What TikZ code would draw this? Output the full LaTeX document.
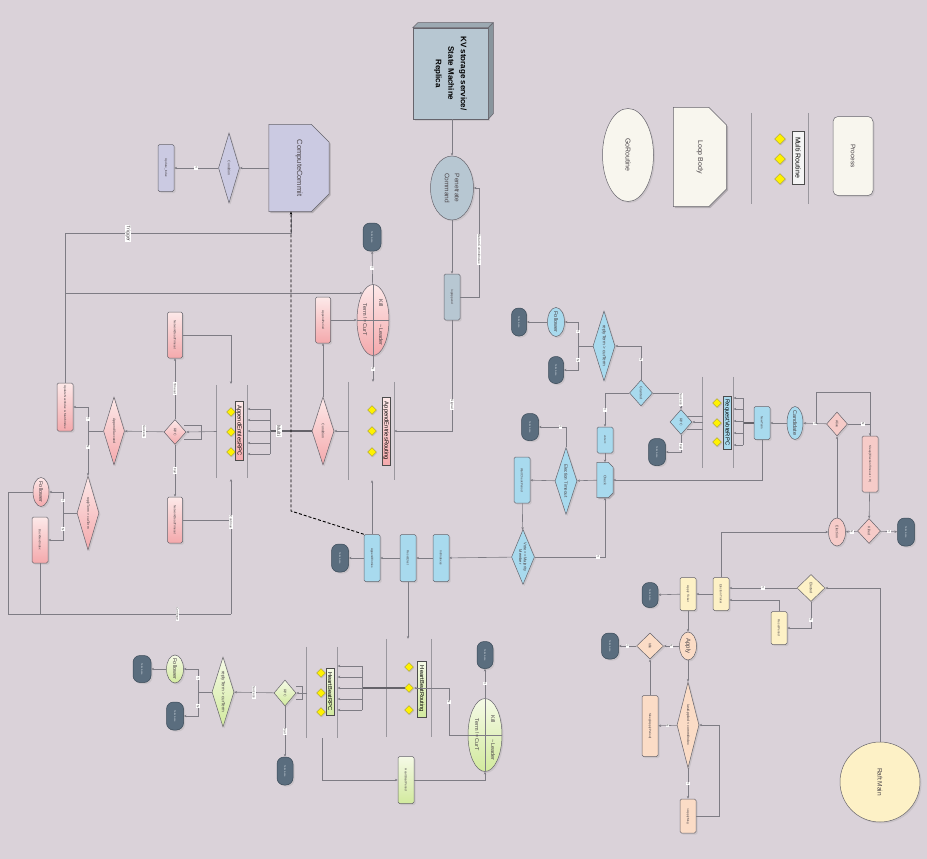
\documentclass[tikz,border=0pt]{standalone}
\usepackage{fontspec}
\setmainfont{Liberation Sans}
\usetikzlibrary{shapes.geometric,arrows.meta,shadows,calc}
\newcommand\fz[2]{\fontsize{#1}{#2}\selectfont}
\definecolor{bgC}{HTML}{DAD2D9}
\definecolor{lineC}{HTML}{7E7C84}
\definecolor{bordC}{HTML}{66646C}
\definecolor{txtC}{HTML}{4A4448}
\definecolor{pinkF}{HTML}{F8BDBE}
\definecolor{pinkT}{HTML}{FDE9E9}
\definecolor{pinkB}{HTML}{F4A9AC}
\definecolor{pinkL}{HTML}{F6CBC8}
\definecolor{blueF}{HTML}{A8DAEE}
\definecolor{termF}{HTML}{5A6D7E}
\definecolor{termD}{HTML}{3A4A58}
\definecolor{termT}{HTML}{D0D8E0}
\definecolor{greenF}{HTML}{DDEFB6}
\definecolor{greenT}{HTML}{F5FAE6}
\definecolor{greenB}{HTML}{D2EA9E}
\definecolor{yellowF}{HTML}{FDF1C6}
\definecolor{peachF}{HTML}{FBDCC6}
\definecolor{lavF}{HTML}{CBCAE2}
\definecolor{steelF}{HTML}{B7C7D2}
\definecolor{legF}{HTML}{F8F6EE}
\definecolor{barC}{HTML}{9A979E}
\newcommand\lbody[6]{%
  \node[inner sep=0pt, minimum width=#3, minimum height=#4] (#1) at #2 {};
  \fill[black, opacity=0.18, transform canvas={shift={(1.5pt,-1.5pt)}}]
    (#1.north west) -- ($(#1.north east)+(-#5,0)$) -- ($(#1.north east)+(0,#5)$)
    -- ($(#1.south east)+(0,-#5)$) -- ($(#1.south east)+(-#5,0)$) -- (#1.south west) -- cycle;
  \filldraw[fill=#6, draw=bordC, line width=0.5pt]
    (#1.north west) -- ($(#1.north east)+(-#5,0)$) -- ($(#1.north east)+(0,#5)$)
    -- ($(#1.south east)+(0,-#5)$) -- ($(#1.south east)+(-#5,0)$) -- (#1.south west) -- cycle;
}
\tikzset{
  shp/.style={draw=bordC, line width=0.5pt, inner sep=0pt,
    drop shadow={opacity=0.18, shadow xshift=1.5pt, shadow yshift=-1.5pt}},
  box/.style 2 args={shp, rectangle, rounded corners=1.5pt, minimum width=#1, minimum height=#2},
  dia/.style 2 args={shp, diamond, minimum width=#1, minimum height=#2},
  ell/.style 2 args={shp, ellipse, minimum width=#1, minimum height=#2},
  rtext/.style={rotate=-90, inner sep=0pt, align=center, text=txtC, font=\fz{3}{3.6}},
  T/.style={label={[rtext]center:{#1}}},
  T2/.style 2 args={label={[rtext, font=#1]center:{#2}}},
  term/.style 2 args={shp, rectangle, rounded corners=7pt, fill=termF, draw=termD,
    minimum width=#1, minimum height=#2,
    label={[rtext, text=termT, font=\fz{2.5}{3}]center:{Terminate}}},
  pinkG/.style={top color=pinkT, bottom color=pinkB},
  greenG/.style={top color=greenT, bottom color=greenB},
  conn/.style={draw=lineC, line width=0.6pt},
  arr/.style={conn, -{Stealth[length=2.8pt,width=2.4pt]}},
  lbl/.style={fill=white, inner sep=0.8pt, rotate=-90, font=\fz{3.2}{3.6}, text=txtC},
  bar/.style={draw=barC, line width=0.9pt},
  ydia/.style={diamond, fill=yellow, draw=yellow!55!black, line width=0.3pt,
    minimum width=9, minimum height=9, inner sep=0pt,
    drop shadow={opacity=0.2, shadow xshift=1pt, shadow yshift=-1pt}},
  mlbl/.style 2 args={draw=black!70, line width=0.5pt, rectangle, inner sep=0pt,
    minimum width=#1, minimum height=#2,
    drop shadow={opacity=0.15, shadow xshift=1pt, shadow yshift=-1pt}},
  mr/.style 2 args={inner sep=0pt, minimum width=#1, minimum height=#2},
  dsh/.style={draw=black, line width=0.9pt, dash pattern=on 3pt off 2pt},
  thickln/.style={draw=lineC!80!black, line width=1.3pt},
}
\begin{document}
\begin{tikzpicture}[x=1pt,y=-1pt]
\fill[bgC] (0,0) rectangle (927,859);
\useasboundingbox (0,0) rectangle (927,859);

% ---------------- Legend ----------------
\node[ell={51}{93}, fill=legF, T={\fz{7}{8}GoRoutine}] (lgGo) at (628,155) {};
\lbody{lgLoop}{(700,157)}{53}{99}{18}{legF}
\node[rtext, font=\fz{7}{8}] (lgLoopT) at (lgLoop) {Loop Body};
\node[mr={56}{91}] (lgMulti) at (780,158.5) {};
\draw[bar] (lgMulti.north west) -- (lgMulti.south west);
\draw[bar] (lgMulti.north east) -- (lgMulti.south east);
\node[ydia, minimum width=11, minimum height=11] (lgD1) at (780,139) {};
\node[ydia, minimum width=11, minimum height=11] (lgD2) at (780,159) {};
\node[ydia, minimum width=11, minimum height=11] (lgD3) at (780,179) {};
\node[mlbl={12}{53}, fill=white!92!gray, T={\color{black}\fz{7}{8}Multi Routine}] (lgML) at (798,157.5) {};
\node[box={40}{79}, rounded corners=5pt, fill=legF, T={\fz{6.5}{7.5}Process}] (lgProc) at (853,156) {};

% ---------------- KV store ----------------
\node[shp, rectangle, minimum width=75, minimum height=91, fill=steelF] (kv) at (450.5,73.5) {};
\filldraw[fill=steelF!85!black, draw=bordC, line width=0.5pt] (kv.north west) -- ++(5,-5) -- ++(75,0) -- (kv.north east) -- cycle;
\filldraw[fill=steelF!75!black, draw=bordC, line width=0.5pt] (kv.north east) -- ++(5,-5) -- ++(0,91) -- (kv.south east) -- cycle;
\node[rtext, text=black, font=\bfseries\fz{8}{12.5}] (kvT) at (kv) {KV storage service/\\State Machine\\Replica};
\node[ell={43}{64}, fill=steelF, T2={\fz{6.5}{10}}{Penetrate\\Command}] (pen) at (452,188) {};
\node[box={16}{46}, fill=steelF, T={logAppend}] (lga) at (452,297) {};

% ---------------- Lavender ----------------
\node[box={16}{47}, fill=lavF, T={Update\_Index}] (ccBox) at (166,168) {};
\node[dia={21}{70}, fill=lavF, T={\fz{3.5}{4}Condition}] (ccDia) at (229,168) {};
\lbody{cc}{(299,168)}{60}{87}{18}{lavF}
\node[rtext, font=\fz{7.5}{9}] (ccT) at (cc) {ComputeCommit};
\coordinate (ccBot) at ($(cc.south)+(-8,0)$);

% ---------------- Pink centre ----------------
\node[term={18}{28}] (tA) at (372,237) {};
\node[ell={32}{71}, pinkG] (killA) at (373,320) {};
\draw[conn] (killA.west) -- (killA.east);
\draw[conn] (killA.north) -- (killA.south);
\node[rtext, font=\fz{5.5}{6}] (killA1) at (381,303) {Kill};
\node[rtext, font=\fz{5.5}{6}] (killA2) at (381,335) {\textasciitilde Leader};
\node[rtext, font=\fz{5.5}{6}] (killA3) at (365,320) {Term != CurT};
\node[box={15}{46}, pinkG, T={AppendPeriod}] (apA) at (323,320) {};
\node[dia={22}{68}, pinkG, T={\fz{3.5}{4}Condition}] (condA) at (323,431) {};
\node[mr={45}{98}] (aer) at (371.5,431) {};
\draw[bar] (aer.north west) -- (aer.south west);
\draw[bar] (aer.north east) -- (aer.south east);
\node[ydia] (aerD1) at (372,410) {};
\node[ydia] (aerD2) at (372,431) {};
\node[ydia] (aerD3) at (372,452) {};
\node[mlbl={8}{68}, pinkG, T={\color{black}\fz{5.8}{6}AppendEntriesRouting}] (aerL) at (386,431) {};

% ---------------- Pink left ----------------
\node[mr={30}{93}] (aep) at (232,431.5) {};
\draw[bar] (aep.north west) -- (aep.south west);
\draw[bar] (aep.north east) -- (aep.south east);
\node[ydia] (aepD1) at (231,412) {};
\node[ydia] (aepD2) at (231,432) {};
\node[ydia] (aepD3) at (231,452) {};
\node[mlbl={8}{59}, pinkG, T={\color{black}\fz{5.8}{6}AppendEntriesRPC}] (aepL) at (239,430.5) {};
\coordinate (aepTop) at (231,384);
\coordinate (aepBot) at (231,479);
\node[dia={22}{25}, pinkG, T={\fz{3.5}{4}RPC}] (rpcA) at (175,432) {};
\node[box={15}{46}, pinkG, T={NetworkDeadTimeout}] (ndA) at (175,335) {};
\node[box={15}{46}, pinkG, T={NetworkDeadTimeout}] (ndB) at (175,520) {};
\node[dia={21}{68}, pinkG, T={\fz{3.5}{4}AppendSucceed}] (asA) at (114,431) {};
\node[box={16}{48}, pinkG, T={Update NextIndex \& MatchIndex}] (updA) at (65,407) {};
\node[dia={22}{74}, pinkG, T={\fz{3.5}{4}replyTerm > curTerm}] (rtA) at (88,513) {};
\node[ell={16}{29}, pinkG, T={\fz{5.5}{6}Follower}] (folA) at (41,492) {};
\node[box={16}{46}, pinkG, T={BackNextIndex}] (bnA) at (40,540) {};

% ---------------- Blue ----------------
\node[term={17}{28}] (tB1) at (340,558) {};
\node[box={16}{47}, fill=blueF, T={AppendEntries}] (aeB) at (372,558) {};
\node[box={16}{47}, fill=blueF, T={ResetElect}] (reB) at (408,558) {};
\node[box={16}{47}, fill=blueF, T={InitIndexes}] (iiB) at (441,558) {};
\node[dia={23}{55}, fill=blueF, T2={\fz{4}{4.8}}{Vote >= Majority\\Member}] (vmB) at (523,557) {};
\lbody{chkB}{(605,480)}{16}{35}{5}{blueF}
\node[rtext, font=\fz{3.5}{4}] (chkT) at (chkB) {Check};
\node[box={16}{26}, fill=blueF, T={vote++}] (vpB) at (605,440) {};
\node[dia={22}{67}, fill=blueF, T={\fz{4.5}{5}Election Timeout}] (etB) at (566,481) {};
\node[box={16}{46}, fill=blueF, T={Wait CheckPeriod}] (wcB) at (522,480) {};
\node[term={17}{27}] (tB2) at (530,427) {};
\node[dia={23}{26}, fill=blueF, T={\fz{3.5}{4}Granted}] (grB) at (641,393) {};
\node[dia={22}{70}, fill=blueF, T={\fz{4.5}{5}replyTerm > curTerm}] (rtB) at (604,346) {};
\node[ell={17}{29}, fill=blueF, T={\fz{5.5}{6}Follower}] (folB) at (556,322) {};
\node[term={15}{28}] (tB3) at (519,322) {};
\node[term={15}{27}] (tB4) at (556,370) {};
\node[dia={22}{25}, fill=blueF, T={\fz{3.5}{4}RPC}] (rpcB) at (681,422) {};
\node[term={17}{27}] (tB5) at (657,452) {};
\node[mr={30}{91}] (rvr) at (718,422.5) {};
\draw[bar] (rvr.north west) -- (rvr.south west);
\draw[bar] (rvr.north east) -- (rvr.south east);
\node[ydia] (rvrD1) at (717,403) {};
\node[ydia] (rvrD2) at (717,423) {};
\node[ydia] (rvrD3) at (717,442) {};
\node[mlbl={8}{53}, fill=blueF, T={\color{black}\fz{5.8}{6}RequestVoteRPC}] (rvrL) at (727,422.5) {};
\node[box={16}{33}, fill=blueF, T={NewTerm}] (ntB) at (762,423) {};
\node[ell={16}{33}, fill=blueF, T={\fz{5.5}{6}Candidate}] (candB) at (795,423) {};
\node[dia={21}{24}, fill=pinkL, T={\fz{3.5}{4}Alive}] (alvP) at (837,424) {};
\node[box={16}{56}, fill=pinkL, T={Sleep(ElectionTimeout + R)}] (slpP) at (870,464) {};
\node[dia={23}{25}, fill=pinkL, T={\fz{3.5}{4}Killed}] (kldP) at (869,531) {};
\node[term={17}{28}] (tP1) at (906,532) {};
\node[ell={17}{28}, fill=pinkL, T={\fz{3.5}{4}Election}] (elP) at (837,532) {};

% ---------------- Yellow / peach ----------------
\node[box={16}{33}, fill=yellowF, T={Election Ticker}] (etkY) at (721,594) {};
\node[box={16}{33}, fill=yellowF, T={Apply Ticker}] (atkY) at (688,594) {};
\node[term={16}{25}] (tY1) at (650,595) {};
\node[dia={28}{27}, fill=yellowF, T={\fz{3.5}{4}Elected}] (eldY) at (811,588) {};
\node[box={16}{33}, fill=yellowF, T={ResetPeriod}] (rspY) at (779,628) {};
\node[shp, circle, minimum size=80, fill=yellowF, T={\fz{6.5}{7}Raft Main}] (rmY) at (880,782) {};
\node[ell={17}{28}, fill=peachF, T={\fz{6}{6.5}Apply}] (aplY) at (688,646) {};
\node[dia={27}{26}, fill=peachF, T={\fz{3.5}{4}Idle}] (idlY) at (650,646) {};
\node[term={17}{26}] (tY2) at (610,646) {};
\node[dia={22}{86}, fill=peachF, T={\fz{3.5}{4}lastApplied < commitIndex}] (lacY) at (688,725) {};
\node[box={16}{61}, fill=peachF, T={Sleep(ApplyPeriod)}] (sapY) at (650,726) {};
\node[box={16}{34}, fill=peachF, T={<-ApplyMsg}] (amY) at (688,816) {};

% ---------------- Green ----------------
\node[term={18}{27}] (tG1) at (142,669) {};
\node[ell={17}{28}, greenG, T={\fz{5.5}{6}Follower}] (folG) at (175,669) {};
\node[term={17}{28}] (tG2) at (175,716) {};
\node[dia={22}{70}, greenG, T={\fz{4.5}{5}replyTerm > curTerm}] (rtG) at (223,692) {};
\node[dia={22}{26}, greenG, T={\fz{3.5}{4}RPC}] (rpcG) at (285,693) {};
\node[term={16}{28}] (tG3) at (285,771) {};
\node[mr={30}{91}] (hbr) at (322,692.5) {};
\draw[bar] (hbr.north west) -- (hbr.south west);
\draw[bar] (hbr.north east) -- (hbr.south east);
\node[ydia] (hbrD1) at (321,673) {};
\node[ydia] (hbrD2) at (321,693) {};
\node[ydia] (hbrD3) at (321,712) {};
\node[mlbl={8}{47}, greenG, T={\color{black}\fz{5.8}{6}HeartBeatRPC}] (hbrL) at (330,691.5) {};
\node[mr={44}{98}] (hbt) at (409,688) {};
\draw[bar] (hbt.north west) -- (hbt.south west);
\draw[bar] (hbt.north east) -- (hbt.south east);
\node[ydia] (hbtD1) at (409,667) {};
\node[ydia] (hbtD2) at (409,688) {};
\node[ydia] (hbtD3) at (409,710) {};
\node[mlbl={9}{56}, greenG, T={\color{black}\fz{5.8}{6}HeartBeatRouting}] (hbtL) at (421.5,689) {};
\node[ell={34}{73}, greenG] (killG) at (485,735) {};
\draw[conn] (killG.west) -- (killG.east);
\draw[conn] (killG.north) -- (killG.south);
\node[rtext, font=\fz{5.5}{6}] (killG1) at (493,719) {Kill};
\node[rtext, font=\fz{5.5}{6}] (killG2) at (493,750) {\textasciitilde Leader};
\node[rtext, font=\fz{5.5}{6}] (killG3) at (477,735) {Term != CurT};
\node[term={16}{27}] (tG4) at (485,655) {};
\node[box={16}{47}, greenG, T={HeartBeatPeriod}] (hbpG) at (406,780) {};

% ================= Connectors =================
% KV / steel
\draw[arr] (kv.south -| pen.north) -- (pen.north);
\draw[arr] (pen) -- (lga);
\draw[arr] (lga.east) -- ++(19,0) |- node[lbl, pos=0.22]{Return CommitIndex} (pen.east);
\draw[arr] (lga.south) |- node[lbl, pos=0.38]{Signal} (aer.east);

% pink centre
\draw[arr] (killA) -- node[lbl]{Y} (tA);
\draw[arr] (killA.south) -- node[lbl]{N} (killA.south |- aer.north);
\draw[arr] (apA) -- (killA);
\draw[arr] (condA) -- (apA);
\draw[arr] (aer.west) -- (condA.east);
\coordinate (fanA) at (270,431);
\draw[thickln] (condA.west) -- (fanA);
\draw[conn] (270,409) -- (270,454);
\foreach \yy in {409,420,431,443,454} \draw[arr] (270,\yy) -- (247.5,\yy);
\node[lbl, font=\fz{5}{5.5}] (multiL) at (279,431) {Multi};

% pink left
\draw[arr] (aep.west) -- (rpcA.east);
\draw[conn] (rpcA.east) ++(-2,-7) -- ++(17,0) -- ++(0,14) -- ++(-17,0);
\draw[arr] (rpcA) -- node[lbl]{Timeout} (ndA);
\draw[arr] (rpcA) -- node[lbl]{Fail} (ndB);
\draw[arr] (ndA.east) -| (aepTop);
\draw[conn] (ndB.east) -- (ndB.east -| aepBot);
\draw[arr] (231,614) -- node[lbl, pos=0.68]{Continue} (aepBot);
\draw[conn] (folA.west) -- (8,492) -- (8,614) -- node[lbl, pos=0.76]{Continue} (231,614);
\draw[conn] (bnA.south) -- (40,614);
\draw[arr] (rpcA) -- node[lbl]{Success} (asA);
\draw[conn] (asA.west) -- (88,431);
\draw[arr] (88,431) |- node[lbl, pos=0.25]{Y} (updA.east);
\draw[arr] (88,431) -- node[lbl, pos=0.35]{N} (rtA.north);
\draw[conn] (rtA.west) -- (63,513);
\draw[arr] (63,513) |- node[lbl, pos=0.3]{Y} (folA.east);
\draw[arr] (63,513) |- node[lbl, pos=0.3]{N} (bnA.east);
\draw[arr] (updA.north) |- node[lbl, pos=0.64, font=\fz{5}{5.5}]{Trigger} ($(ccBot)+(0,22)$) -- (ccBot);
\draw[arr] (65,293) -- (362.5,293);

% lavender
\draw[arr, dsh] (aeB.north west) -- (ccBot |- 0,511) -- (ccBot);
\draw[arr] (cc) -- (ccDia);
\draw[arr] (ccDia) -- node[lbl]{Y} (ccBox);

% blue
\draw[arr] (vmB) -- (iiB);
\draw[arr] (iiB) -- (reB);
\draw[arr] (reB) -- (aeB);
\draw[arr] (aeB) -- (tB1);
\draw[arr] (aeB.north) -- (aeB.north |- aer.south);
\draw[arr] (reB.south) -- (reB.south |- hbt.north);
\draw[arr] (vmB.east) -| node[lbl, pos=0.45]{Y} (chkB.south);
\draw[arr] (vpB) -- (chkB);
\draw[arr] (chkB) -- (etB);
\draw[arr] (etB) -- (wcB);
\draw[arr] (wcB) -- (vmB);
\draw[arr] (etB.north) |- node[lbl, pos=0.6]{Y} (tB2.east);
\draw[arr] (ntB.south) |- (chkB.east);
\draw[arr] (grB.west) -| node[lbl, pos=0.75]{Y} (vpB.north);
\draw[arr] (grB.north) |- node[lbl, pos=0.3]{N} (rtB.east);
\draw[conn] (rtB.west) -- (578,346);
\draw[arr] (578,346) |- node[lbl, pos=0.3]{Y} (folB.east);
\draw[arr] (578,346) |- node[lbl, pos=0.3]{N} (tB4.east);
\draw[arr] (folB) -- (tB3);
\draw[arr] (grB.east) -| node[lbl, pos=0.7]{Success} (rpcB.north);
\draw[arr] (rpcB.south) |- node[lbl, pos=0.35]{Fail} (tB5.east);
\draw[conn] (687,416) -- (703,416);
\draw[arr] (703,422) -- (rpcB.east);
\draw[conn] (687,429) -- (703,429);
\draw[thickln] (ntB.west) -- (743,423);
\draw[conn] (743,398) -- (743,445);
\foreach \yy in {398,409,421,433,445} \draw[arr] (743,\yy) -- (733.5,\yy);
\draw[arr] (candB) -- (ntB);
\draw[arr] (alvP) -- node[lbl]{Y} (candB);
\draw[arr] (alvP.east) -| node[lbl, pos=0.35]{N} (slpP.north);
\draw[conn] (816,424) -- (816,392) -- (870,392) -- (870,436);
\draw[arr] (slpP) -- (kldP);
\draw[arr] (kldP) -- node[lbl]{Y} (tP1);
\draw[arr] (kldP) -- node[lbl]{N} (elP);
\draw[arr] (elP) -- (alvP);
\draw[arr] (etkY.north) |- (elP.west);

% yellow
\draw[arr] (etkY) -- (atkY);
\draw[arr] (atkY) -- (tY1);
\draw[arr] (eldY.west) -- node[lbl]{Y} (eldY.west -| etkY.east);
\draw[arr] (eldY.south) |- node[lbl, pos=0.35]{N} (rspY.east);
\draw[arr] (rspY.north) |- ($(etkY.east)+(0,6)$);
\draw[arr] (rmY.north) |- (eldY.east);
\draw[arr] (atkY) -- (aplY);
\draw[arr] (aplY) -- node[lbl]{N} (idlY);
\draw[arr] (idlY) -- node[lbl]{Y} (tY2);
\draw[arr] (aplY) -- (lacY);
\draw[arr] (lacY) -- node[lbl]{N} (sapY);
\draw[arr] (sapY) -- (idlY);
\draw[arr] (lacY) -- node[lbl]{Y} (amY);
\draw[arr] (amY.east) -- (719,816) |- (lacY.east);

% green
\draw[thickln] (405,688) -- (362,688);
\draw[conn] (362,666) -- (362,710);
\foreach \yy in {666,677,688,699,710} \draw[arr] (362,\yy) -- (337.5,\yy);
\draw[conn] (296,686) -- (302,686) -- (302,699) -- (296,699);
\draw[arr] (307,693) -- (rpcG.east);
\draw[arr] (rpcG) -- node[lbl]{Success} (rtG);
\draw[conn] (rtG.west) -- (198,692);
\draw[arr] (198,692) |- node[lbl, pos=0.3]{Y} (folG.east);
\draw[arr] (198,692) |- node[lbl, pos=0.3]{N} (tG2.east);
\draw[arr] (folG) -- (tG1);
\draw[arr] (rpcG) -- node[lbl]{Fail} (tG3);
\draw[arr] (killG) -- node[lbl]{Y} (tG4);
\draw[arr] (killG.west) -| node[lbl, pos=0.85]{N} (449,688) -- (414,688);
\draw[arr] (hbr.south) |- (hbpG.west);
\draw[arr] (hbpG.east) -| (killG.south);
\end{tikzpicture}
\end{document}
